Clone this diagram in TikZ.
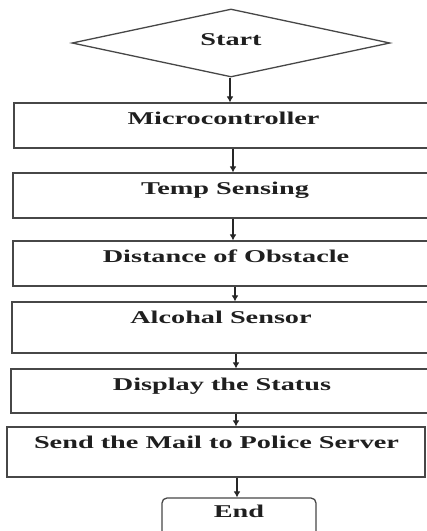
\documentclass[tikz,border=0pt]{standalone}
\usepackage{fontspec}
\setmainfont{Liberation Serif}
\usetikzlibrary{shapes.geometric,arrows.meta}

\tikzset{
  edgecol/.style={draw=black!72, line width=1.3pt},
  stepbox/.style={edgecol, rectangle, inner sep=0pt, fill=none},
  startbox/.style={edgecol, diamond, inner sep=0pt, minimum width=318pt, minimum height=68pt},
  endbox/.style={edgecol, rectangle, rounded corners=5pt, inner sep=0pt},
  label/.style={anchor=base, inner sep=0pt, text=black!88,
    font=\fontsize{18}{20}\selectfont\bfseries},
  arr/.style={draw=black!85, line width=1.3pt, -{Latex[length=6pt,width=7pt]}}
}
% stretched flowchart label
\newcommand{\steptext}[1]{\scalebox{1.57}[1]{#1}}

\begin{document}
\begin{tikzpicture}[x=1pt, y=-1pt]
  \useasboundingbox (0,0) rectangle (427,531);
  \clip (0,0) rectangle (427,531);
  \fill[white] (0,0) rectangle (427,531);

  % start
  \node[startbox] (start) at (231,43) {};
  \node[label] (tstart) at (231,45) {\steptext{Start}};

  % process steps (boxes run past the right border)
  \node[stepbox, minimum width=418pt, minimum height=45pt] (micro) at (223,125.5) {};
  \node[label] at (223.5,124) {\steptext{Microcontroller}};

  \node[stepbox, minimum width=419pt, minimum height=45pt] (temp) at (222.5,195.5) {};
  \node[label] at (225,194) {\steptext{Temp Sensing}};

  \node[stepbox, minimum width=419pt, minimum height=45pt] (dist) at (222.5,263.5) {};
  \node[label] at (226,262) {\steptext{Distance of Obstacle}};

  \node[stepbox, minimum width=420pt, minimum height=51pt] (alc) at (222,327.5) {};
  \node[label] at (221,323) {\steptext{Alcohal Sensor}};

  \node[stepbox, minimum width=421pt, minimum height=44pt] (disp) at (221.5,391) {};
  \node[label] at (222,390) {\steptext{Display the Status}};

  \node[stepbox, minimum width=418pt, minimum height=50pt] (mail) at (216,452) {};
  \node[label] at (216.5,448) {\steptext{Send the Mail to Police Server}};

  % end (runs past the bottom border)
  \node[endbox, minimum width=154pt, minimum height=50pt] (stop) at (239,523) {};
  \node[label] at (239,517) {\steptext{End}};

  % connectors
  \coordinate (c1) at (230,0);
  \coordinate (c2) at (233,0);
  \coordinate (c3) at (233,0);
  \coordinate (c4) at (235,0);
  \coordinate (c5) at (236,0);
  \coordinate (c6) at (236,0);
  \coordinate (c7) at (237,0);
  \draw[arr] (start.south -| c1) -- (micro.north -| c1);
  \draw[arr] (micro.south -| c2) -- (temp.north -| c2);
  \draw[arr] (temp.south -| c3) -- (dist.north -| c3);
  \draw[arr] (dist.south -| c4) -- (alc.north -| c4);
  \draw[arr] (alc.south -| c5) -- (disp.north -| c5);
  \draw[arr] (disp.south -| c6) -- (mail.north -| c6);
  \draw[arr] (mail.south -| c7) -- (stop.north -| c7);
\end{tikzpicture}
\end{document}
